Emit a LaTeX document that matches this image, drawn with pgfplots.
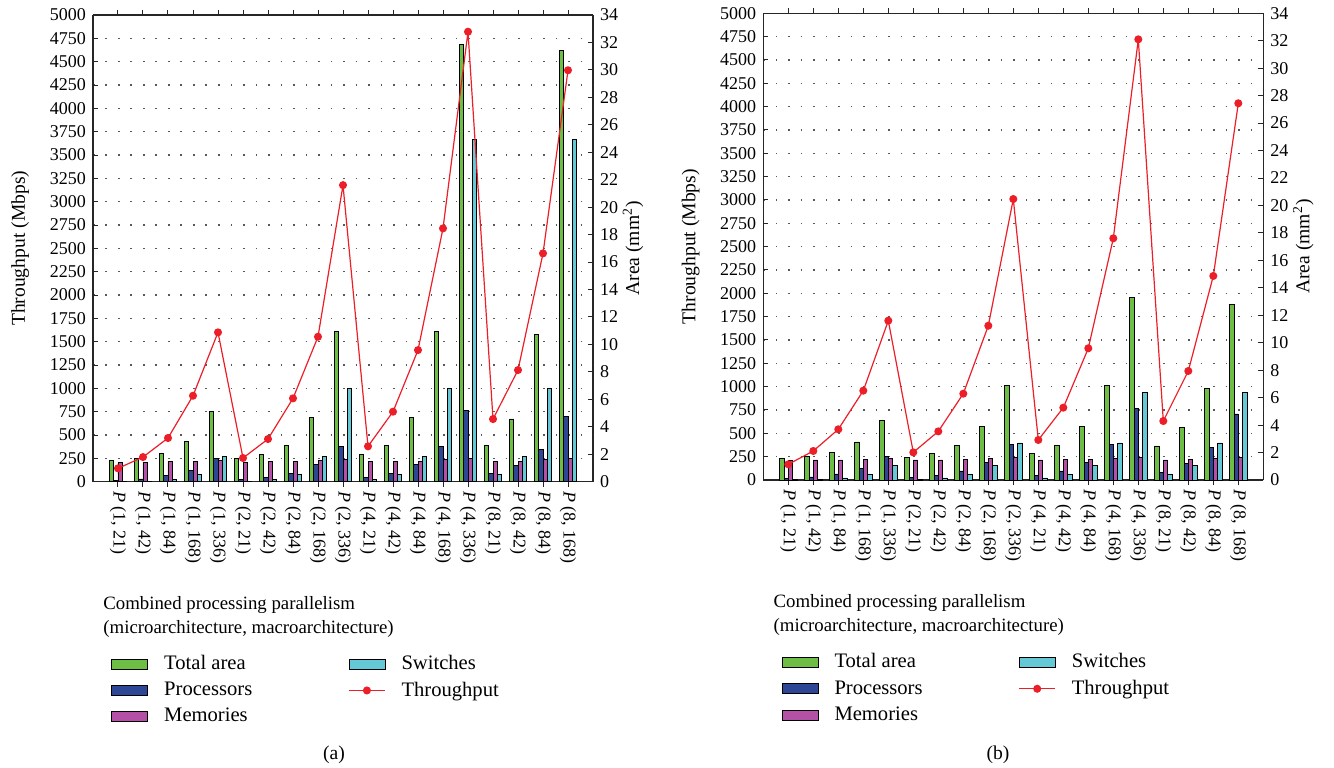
\documentclass[border=0pt]{standalone}
\usepackage{fontspec}
\setmainfont{Liberation Serif}
\usepackage{pgfplots}
\pgfplotsset{compat=1.18}
\usepackage{pgfplotstable}

\definecolor{totc}{RGB}{110,190,70}
\definecolor{procc}{RGB}{45,70,150}
\definecolor{memc}{RGB}{180,80,165}
\definecolor{swc}{RGB}{100,200,215}
\definecolor{thrc}{RGB}{236,30,40}

% area in mm^2 (bars), throughput in Mbps (line)
\pgfplotstableread{
k total proc mem sw thr
0 1.58 0.12 1.41 0.02 143
1 1.72 0.20 1.41 0.05 264
2 2.06 0.44 1.46 0.19 468
3 2.91 0.80 1.46 0.53 921
4 5.10 1.70 1.53 1.85 1600
5 1.70 0.15 1.41 0.02 254
6 1.97 0.32 1.46 0.19 457
7 2.67 0.63 1.46 0.53 893
8 4.66 1.26 1.55 1.85 1553
9 10.93 2.57 1.65 6.80 3177
10 1.97 0.32 1.46 0.15 379
11 2.67 0.63 1.46 0.53 750
12 4.66 1.26 1.50 1.85 1410
13 10.93 2.57 1.63 6.80 2714
14 31.86 5.17 1.68 24.94 4821
15 2.62 0.58 1.46 0.53 671
16 4.57 1.17 1.50 1.85 1196
17 10.73 2.38 1.63 6.80 2446
18 31.40 4.76 1.68 24.94 4408
}\tabA

\pgfplotstableread{
k total proc mem sw thr
0 1.55 0.10 1.43 0.02 168
1 1.70 0.22 1.46 0.03 311
2 2.04 0.44 1.46 0.15 543
3 2.77 0.85 1.50 0.41 957
4 4.35 1.70 1.55 1.09 1707
5 1.63 0.20 1.46 0.02 296
6 1.92 0.34 1.46 0.15 521
7 2.53 0.66 1.48 0.41 925
8 3.89 1.29 1.55 1.09 1653
9 6.90 2.57 1.65 2.70 3010
10 1.92 0.34 1.46 0.15 429
11 2.53 0.66 1.48 0.41 775
12 3.89 1.29 1.50 1.07 1411
13 6.90 2.60 1.60 2.70 2589
14 13.30 5.20 1.65 6.36 4721
15 2.48 0.58 1.46 0.39 632
16 3.81 1.21 1.53 1.07 1168
17 6.68 2.38 1.60 2.70 2186
18 12.80 4.81 1.65 6.36 4036
}\tabB

\pgfplotsset{
  base/.style={
    scale only axis, width=250pt, height=233.35pt, anchor=south west,
    xmin=-1, xmax=19,
    axis line style={black!85, line width=0.6pt},
    tick style={black!85, line width=0.5pt},
    tick align=inside, major tick length=2.5pt,
    ticklabel style={font=\fontsize{9}{10}\selectfont},
    /pgf/number format/assume math mode=true,
    /pgf/number format/1000 sep={},
    label style={font=\fontsize{9.8}{12}\selectfont},
  },
  barleg/.style={legend image code/.code={\draw[##1] (0pt,-2.5pt) rectangle (18pt,2.5pt);}},
  thrleg/.style={legend image code/.code={%
    \draw[##1] (0pt,0pt) -- (18pt,0pt);
    \fill[##1] (9pt,0pt) circle (1.7pt);}},
  areaax/.style={base,
    ymin=0, ymax=34, ytick={0,2,...,34},
    axis y line*=right,
    ylabel={Area (mm\textsuperscript{2})}, ylabel shift=-4.5pt,
    xtick={0,...,18},
    xticklabels={{\textit{P} (1, 21)},{\textit{P} (1, 42)},{\textit{P} (1, 84)},{\textit{P} (1, 168)},{\textit{P} (1, 336)},
      {\textit{P} (2, 21)},{\textit{P} (2, 42)},{\textit{P} (2, 84)},{\textit{P} (2, 168)},{\textit{P} (2, 336)},
      {\textit{P} (4, 21)},{\textit{P} (4, 42)},{\textit{P} (4, 84)},{\textit{P} (4, 168)},{\textit{P} (4, 336)},
      {\textit{P} (8, 21)},{\textit{P} (8, 42)},{\textit{P} (8, 84)},{\textit{P} (8, 168)}},
    xticklabel style={rotate=-90, anchor=west, inner sep=2pt},
    extra y ticks={1.7,3.4,5.1,6.8,8.5,10.2,11.9,13.6,15.3,17,18.7,20.4,22.1,23.8,25.5,27.2,28.9,30.6,32.3},
    extra y tick labels={},
    extra y tick style={grid=major, major tick length=0pt},
    grid style={black!65, line width=0.8pt, dash pattern=on 0.8pt off 5.45pt},
    ybar=0pt, bar width=2.15pt,
    xlabel={Combined processing parallelism\\(microarchitecture, macroarchitecture)},
    xlabel style={at={(rel axis cs:0.02,-0.244)}, anchor=north west, align=left, inner sep=0pt,
      font=\fontsize{9.4}{12.2}\selectfont},
    legend style={draw=none, fill=none, at={(rel axis cs:0.024,-0.354)}, anchor=north west,
      font=\fontsize{10.3}{11}\selectfont, row sep=0.6pt,
      /tikz/every odd column/.append style={column sep=6pt},
      /tikz/every even column/.append style={column sep=46pt}},
    legend cell align=left, legend columns=3, transpose legend,
  },
  thrax/.style={base,
    ymin=0, ymax=5000, ytick={0,250,...,5000},
    axis y line*=left, axis x line=none, xtick=\empty,
    ylabel={Throughput (Mbps)}, ylabel shift=3.5pt,
  },
  bars/.style={draw=black, line width=0.4pt, barleg},
  thrline/.style={color=thrc, line width=0.6pt, mark=*, mark size=1.7pt},
}

\begin{document}
\begin{tikzpicture}
\useasboundingbox (0,0) rectangle (667pt,383.5pt);

% ---------- panel (a)
\begin{axis}[areaax, at={(46.5pt,142.65pt)}]
\addplot[bars, fill=totc] table[x=k, y=total] {\tabA};
\addplot[bars, fill=procc] table[x=k, y=proc] {\tabA};
\addplot[bars, fill=memc] table[x=k, y=mem] {\tabA};
\addplot[bars, fill=swc] table[x=k, y=sw] {\tabA};
\addlegendimage{thrleg, color=thrc, line width=0.6pt}
\legend{Total area, Processors, Memories, Switches, Throughput}
\end{axis}
\begin{axis}[thrax, at={(46.5pt,142.65pt)}]
\addplot[thrline] table[x=k, y=thr] {\tabA};
\end{axis}
\node at (167pt,6pt) {\fontsize{9.8}{11}\selectfont (a)};

% ---------- panel (b)
\begin{axis}[areaax, at={(381.65pt,143.5pt)}]
\addplot[bars, fill=totc] table[x=k, y=total] {\tabB};
\addplot[bars, fill=procc] table[x=k, y=proc] {\tabB};
\addplot[bars, fill=memc] table[x=k, y=mem] {\tabB};
\addplot[bars, fill=swc] table[x=k, y=sw] {\tabB};
\addlegendimage{thrleg, color=thrc, line width=0.6pt}
\legend{Total area, Processors, Memories, Switches, Throughput}
\end{axis}
\begin{axis}[thrax, at={(381.65pt,143.5pt)}]
\addplot[thrline] table[x=k, y=thr] {\tabB};
\end{axis}
\node at (499pt,6pt) {\fontsize{9.8}{11}\selectfont (b)};
\end{tikzpicture}
\end{document}
